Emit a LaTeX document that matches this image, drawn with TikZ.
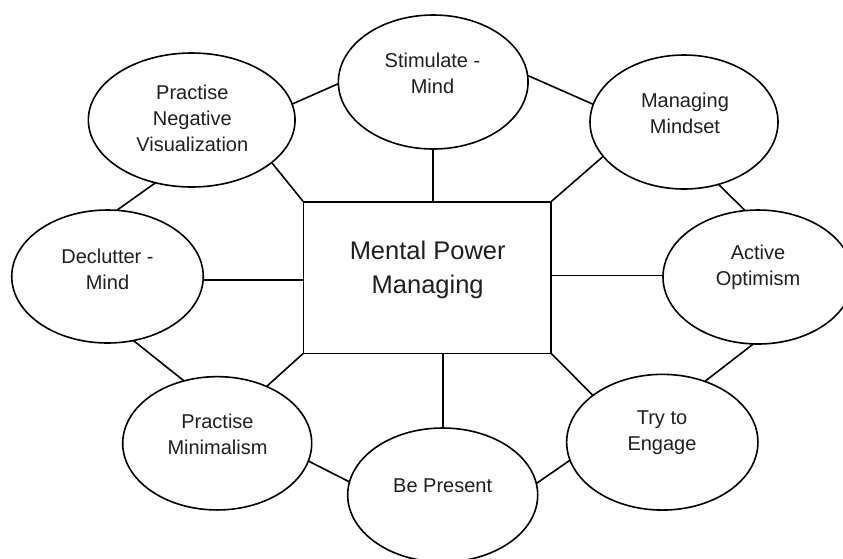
\documentclass[tikz,border=0pt]{standalone}
\usepackage{fontspec}
\setmainfont{Liberation Sans}
\usetikzlibrary{shapes.geometric}
\begin{document}
\begin{tikzpicture}[x=1pt,y=-1pt,
  bub/.style={draw, ellipse, line width=1.6pt, inner sep=0pt, outer sep=0pt},
  lab/.style={align=center, font=\fontsize{20}{26}\selectfont, text=black!88, inner sep=0pt},
  mainlab/.style={align=center, font=\fontsize{25.5}{34}\selectfont, text=black!88, inner sep=0pt},
  conn/.style={line width=1.6pt}]
\useasboundingbox (0,0) rectangle (843,558);
\fill[white] (0,0) rectangle (843,558);

% central box
\node[draw, line width=1.6pt, minimum width=247.7pt, minimum height=151.6pt, inner sep=0pt, outer sep=0pt] (rect) at (427.2,277.5) {};
\node[mainlab] (trect) at (427.7,270) {Mental Power\\Managing};

% ellipses
\node[bub, minimum width=206.7pt, minimum height=134pt] (pnv) at (191.7,120) {};
\node[bub, minimum width=189.7pt, minimum height=134pt] (stim) at (433.2,82) {};
\node[bub, minimum width=188pt, minimum height=134pt] (mm) at (684,122) {};
\node[bub, minimum width=191.5pt, minimum height=133pt] (decl) at (107.5,276.5) {};
\node[bub, minimum width=190pt, minimum height=134pt] (ao) at (758,277) {};
\node[bub, minimum width=189pt, minimum height=133.3pt] (pm) at (217.2,443.3) {};
\node[bub, minimum width=190pt, minimum height=134pt] (bp) at (442.7,495) {};
\node[bub, minimum width=191.3pt, minimum height=135.7pt] (te) at (662.3,442.2) {};

% labels
\node[lab] (tpnv) at (192.3,118) {Practise\\Negative\\Visualization};
\node[lab] (tstim) at (432.5,73) {Stimulate -\\Mind};
\node[lab] (tmm) at (685,113.5) {Managing\\Mindset};
\node[lab] (tdecl) at (107.5,269.5) {Declutter -\\Mind};
\node[lab] (tao) at (758,267.5) {Active\\Optimism};
\node[lab] (tpm) at (217.5,434.5) {Practise\\Minimalism};
\node[lab] (tbp) at (442.7,486) {Be Present};
\node[lab] (tte) at (662,433) {Try to\\Engage};

% connectors
\draw[conn] (pnv.9.7) -- (stim.181.8);
\draw[conn] (stim.4.2) -- (mm.169.7);
\draw[conn] (pnv.-28.1) -- (rect.north west);
\draw[conn] (stim.south) -- (stim.south |- rect.north);
\draw[conn] (mm.203.8) -- (rect.north east);
\draw[conn] (pnv.240.85) -- (decl.82.1);
\draw[conn] (mm.-61.4) -- (ao.101);
\draw[conn] (decl.-2) -- (decl.-2 -| rect.west);
\draw[conn] (ao.179.2) -- (ao.179.2 -| rect.east);
\draw[conn] (decl.-68.9) -- (pm.118.2);
\draw[conn] (ao.-94) -- (te.55.5);
\draw[conn] (rect.south west) -- (pm.49.7);
\draw[conn] (rect.south east) -- (te.146.2);
\draw[conn] (bp.north |- rect.south) -- (bp.north);
\draw[conn] (pm.-11.2) -- (bp.172);
\draw[conn] (bp.7.4) -- (te.191.7);
\end{tikzpicture}
\end{document}
